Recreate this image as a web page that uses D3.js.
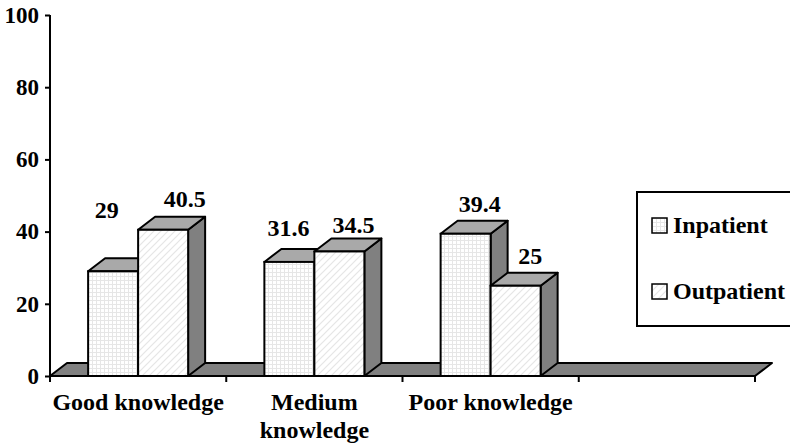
<!doctype html>
<html>
<head>
<meta charset="utf-8">
<script src="https://d3js.org/d3.v7.min.js"></script>
</head>
<body style="margin:0; background:#fff">
<svg width="790" height="447"></svg>
<script>
// data
var categories = ["Good knowledge", "Medium knowledge", "Poor knowledge", ""];
var seriesNames = ["Inpatient", "Outpatient"];
var inpatient = [29, 31.6, 39.4];
var outpatient = [40.5, 34.5, 25];
var yTicks = [0, 20, 40, 60, 80, 100];
// hand-placed label nudges (the original labels were dragged around a bit)
var labelNudge = [[[-6.5, -31], [-1, -4], [14, 0]], [[7.5, -1], [0, 3.5], [0.5, 0]]];

var FONT = "Liberation Serif";
var svg = d3.select("svg")
    .attr("font-family", FONT).attr("font-weight", "bold");
var depth = {dx: 17, dy: -13};
var x = d3.scaleBand().domain(categories).range([50, 755]);
var y = d3.scaleLinear().domain([0, 100]).range([376, 15]);
var groupW = 100;
var xs = d3.scaleBand().domain(seriesNames).range([0, groupW]);

// patterns
var defs = svg.append("defs");
var grid = defs.append("pattern").attr("id", "grid").attr("patternUnits", "userSpaceOnUse")
    .attr("width", 4).attr("height", 4);
grid.append("rect").attr("width", 4).attr("height", 4).attr("fill", "#fff");
grid.append("path").attr("d", "M0,0.5H4M0.5,0V4").attr("stroke", "#e6e6e6").attr("stroke-width", 1);
var hatch = defs.append("pattern").attr("id", "hatch").attr("patternUnits", "userSpaceOnUse")
    .attr("width", 7).attr("height", 7);
hatch.append("rect").attr("width", 7).attr("height", 7).attr("fill", "#fff");
hatch.append("path").attr("d", "M-1,8L8,-1M-4,4L4,-4M3,11L11,3").attr("stroke", "#e6e6e6").attr("stroke-width", 1.2);
var fills = ["url(#grid)", "url(#hatch)"];

// floor
var x0 = x.range()[0], x1 = x.range()[1], y0 = y(0);
svg.append("path")
    .attr("d", "M" + x0 + "," + y0 + "L" + (x0 + depth.dx) + "," + (y0 + depth.dy) +
        "L" + (x1 + depth.dx) + "," + (y0 + depth.dy) + "L" + x1 + "," + y0 + "Z")
    .attr("fill", "#808080").attr("stroke", "#000").attr("stroke-width", 2).attr("stroke-linejoin", "round");

// y axis
var yAxis = svg.append("g").attr("transform", "translate(" + x0 + ",0)")
    .call(d3.axisLeft(y).tickValues(yTicks).tickSize(5).tickSizeOuter(0).tickPadding(6));
yAxis.attr("font-family", FONT).attr("font-size", 23).attr("font-weight", "bold");
yAxis.select(".domain").remove();
yAxis.append("line").attr("x1", 0).attr("x2", 0).attr("y1", y(100)).attr("y2", y0)
    .attr("stroke", "#000").attr("stroke-width", 2);
yAxis.selectAll(".tick line").attr("stroke", "#000").attr("stroke-width", 2);
yAxis.selectAll(".tick text").attr("fill", "#000");

// x ticks at band edges
var edges = categories.map(function(c) {return x(c);}).concat([x1]);
svg.append("g").selectAll("line").data(edges).enter().append("line")
    .attr("x1", function(d) {return d;}).attr("x2", function(d) {return d;})
    .attr("y1", y0).attr("y2", y0 + 6)
    .attr("stroke", "#000").attr("stroke-width", 2);

// bars
var rows = [];
categories.forEach(function(c, i) {
  if (i >= inpatient.length) return;
  [inpatient[i], outpatient[i]].forEach(function(v, s) {
    rows.push({cat: c, ci: i, s: s, v: v});
  });
});

function barX(d) {return x(d.cat) + (x.bandwidth() - groupW) / 2 + xs(seriesNames[d.s]);}

var bars = svg.append("g").selectAll("g").data(rows).enter().append("g");
bars.append("path") // side
    .attr("d", function(d) {
      var bx = barX(d) + xs.bandwidth(), ty = y(d.v);
      return "M" + bx + "," + y0 + "L" + (bx + depth.dx) + "," + (y0 + depth.dy) +
        "L" + (bx + depth.dx) + "," + (ty + depth.dy) + "L" + bx + "," + ty + "Z";
    })
    .attr("fill", "#808080").attr("stroke", "#000").attr("stroke-width", 2).attr("stroke-linejoin", "round");
bars.append("path") // top
    .attr("d", function(d) {
      var bx = barX(d), w = xs.bandwidth(), ty = y(d.v);
      return "M" + bx + "," + ty + "L" + (bx + depth.dx) + "," + (ty + depth.dy) +
        "L" + (bx + w + depth.dx) + "," + (ty + depth.dy) + "L" + (bx + w) + "," + ty + "Z";
    })
    .attr("fill", "#a9a9a9").attr("stroke", "#000").attr("stroke-width", 2).attr("stroke-linejoin", "round");
bars.append("rect") // front
    .attr("x", barX).attr("y", function(d) {return y(d.v);})
    .attr("width", xs.bandwidth()).attr("height", function(d) {return y0 - y(d.v);})
    .attr("fill", function(d) {return fills[d.s];})
    .attr("stroke", "#000").attr("stroke-width", 2);

// value labels
svg.append("g").selectAll("text").data(rows).enter().append("text")
    .attr("x", function(d) {return barX(d) + xs.bandwidth() / 2 + (d.s ? 14 : 0) + labelNudge[d.s][d.ci][0];})
    .attr("y", function(d) {return y(d.v) - 22 + labelNudge[d.s][d.ci][1];})
    .attr("text-anchor", "middle").attr("font-size", 24)
    .text(function(d) {return d.v;});

// category labels, wrapped to the band width
svg.append("g").selectAll("text").data(categories).enter().append("text")
    .attr("x", function(d) {return x(d) + x.bandwidth() / 2;})
    .attr("y", 410)
    .attr("text-anchor", "middle").attr("font-size", 24)
    .each(function(d) {
      var t = d3.select(this);
      t.text(d);
      if (this.getComputedTextLength() > x.bandwidth()) {
        var words = d.split(" ");
        t.text(null);
        words.forEach(function(w, k) {
          t.append("tspan").attr("x", x(d) + x.bandwidth() / 2).attr("dy", k ? 28 : 0).text(w);
        });
      }
    });

// legend
var lg = svg.append("g").attr("transform", "translate(637,192)");
lg.append("rect").attr("width", 170).attr("height", 134)
    .attr("fill", "#fff").attr("stroke", "#000").attr("stroke-width", 2);
var items = lg.selectAll("g").data(seriesNames).enter().append("g")
    .attr("transform", function(d, i) {return "translate(15," + (26 + i * 66) + ")";});
items.append("rect").attr("width", 15).attr("height", 15)
    .attr("fill", function(d, i) {return fills[i];}).attr("stroke", "#000").attr("stroke-width", 1.5);
items.append("text").attr("x", 21).attr("y", 15).attr("font-size", 24)
    .text(function(d) {return d;});
</script>
</body>
</html>
